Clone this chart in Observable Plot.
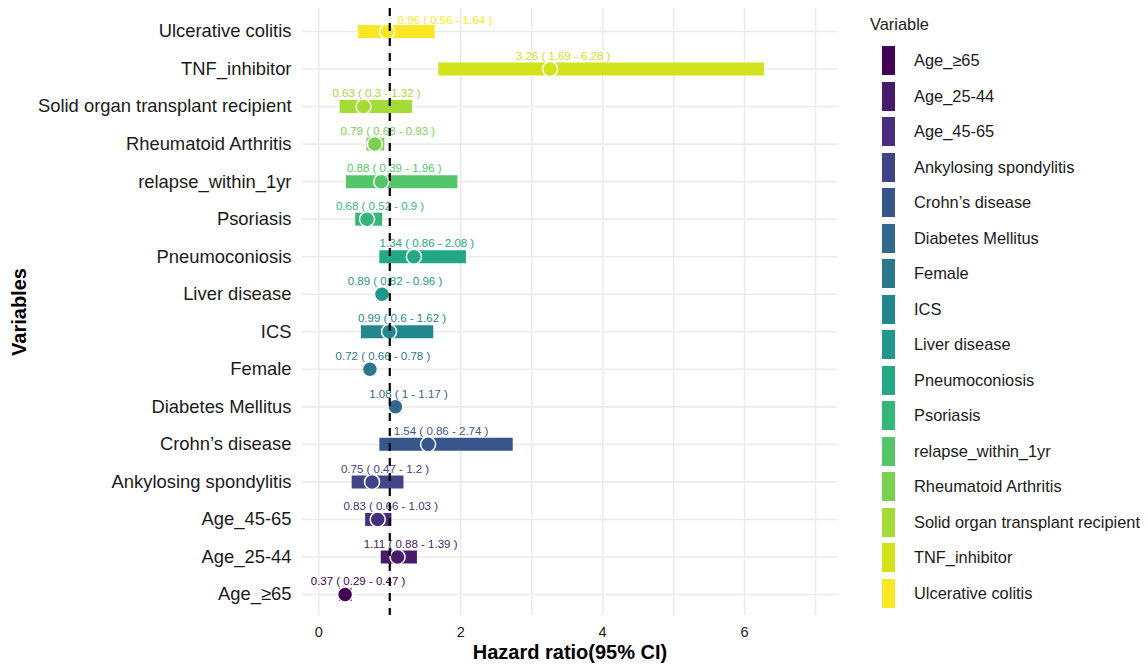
<!DOCTYPE html>
<html>
<head>
<meta charset="utf-8">
<script src="https://cdn.jsdelivr.net/npm/d3@7"></script>
<script src="https://cdn.jsdelivr.net/npm/@observablehq/plot@0.6"></script>
<style>
  html, body { margin: 0; padding: 0; background: #fff; }
  body { width: 1148px; height: 666px; position: relative; overflow: hidden;
         font-family: "Liberation Sans", Helvetica, Arial, sans-serif; }
  #chart { position: absolute; left: 0; top: 0; }
  #legend { position: absolute; left: 870px; top: 14px; color: #1a1a1a; }
  #legend .title { font-size: 16.4px; line-height: 20px; height: 29px; }
  #legend .row { display: flex; align-items: center; height: 35.5px; }
  #legend .sw { width: 13px; height: 29px; margin-left: 12px; }
  #legend .lab { font-size: 16.4px; margin-left: 19px; white-space: nowrap; }
</style>
</head>
<body>
<div id="chart"></div>
<div id="legend"></div>
<script>
// factor levels (bottom to top on the y axis, also legend order)
const variables = ["Age_≥65","Age_25-44","Age_45-65","Ankylosing spondylitis","Crohn’s disease",
  "Diabetes Mellitus","Female","ICS","Liver disease","Pneumoconiosis","Psoriasis",
  "relapse_within_1yr","Rheumatoid Arthritis","Solid organ transplant recipient",
  "TNF_inhibitor","Ulcerative colitis"];
const hr    = [0.37, 1.11, 0.83, 0.75, 1.54, 1.08, 0.72, 0.99, 0.89, 1.34, 0.68, 0.88, 0.79, 0.63, 3.26, 0.96];
const lower = [0.29, 0.88, 0.66, 0.47, 0.86, 1,    0.66, 0.6,  0.82, 0.86, 0.52, 0.39, 0.68, 0.3,  1.69, 0.56];
const upper = [0.47, 1.39, 1.03, 1.2,  2.74, 1.17, 0.78, 1.62, 0.96, 2.08, 0.9,  1.96, 0.93, 1.32, 6.28, 1.64];
const xTicks = [0, 2, 4, 6];
const xGrid = [0, 1, 2, 3, 4, 5, 6, 7];
const refLine = [1];

const palette = d3.quantize(d3.interpolateViridis, variables.length);
const rows = variables.map((v, i) => ({
  v, hr: hr[i], lo: lower[i], hi: upper[i],
  label: `${hr[i]} ( ${lower[i]} - ${upper[i]} )`
}));
const font = '"Liberation Sans", Helvetica, Arial, sans-serif';

const chart = Plot.plot({
  width: 860, height: 666,
  marginLeft: 302, marginRight: 23, marginTop: 8, marginBottom: 51,
  style: { fontFamily: font, background: "white", color: "#1a1a1a" },
  x: { domain: [-0.23, 7.31] },
  y: { type: "point", domain: variables.slice().reverse(), range: [31, 594], padding: 0, round: false },
  color: { domain: variables, range: palette },
  marks: [
    Plot.gridX(xGrid, { stroke: "#ebebeb", strokeOpacity: 1, strokeWidth: 1.6 }),
    Plot.gridY({ stroke: "#ebebeb", strokeOpacity: 1, strokeWidth: 1.6 }),
    Plot.ruleY(rows, { y: "v", x1: "lo", x2: "hi", stroke: "v", strokeWidth: 13 }),
    Plot.dot(rows, { x: "hr", y: "v", r: 7.5, fill: "v", stroke: "white", strokeWidth: 1.5 }),
    Plot.text(rows.filter(d => d.v !== "Ulcerative colitis"),
      { x: "hr", y: "v", text: "label", fill: "v", fontSize: 11.5, dx: 13, dy: -13 }),
    Plot.text(rows.filter(d => d.v === "Ulcerative colitis"),
      { x: "hr", y: "v", text: "label", fill: "v", fontSize: 11.5, dx: 58, dy: -11 }),
    Plot.ruleX(refLine, { stroke: "black", strokeWidth: 2.2, strokeDasharray: "8,7" }),
    Plot.axisX(xTicks, { tickSize: 0, tickPadding: 11, fontSize: 14.5, label: null, fill: "#1a1a1a" }),
    Plot.axisY({ tickSize: 0, tickPadding: 11, fontSize: 18.4, label: null, fill: "#1a1a1a" }),
    Plot.text(["Hazard ratio(95% CI)"], { frameAnchor: "bottom", lineAnchor: "middle", dy: 37, fontSize: 20, fontWeight: "bold", fill: "#000" }),
    Plot.text(["Variables"], { frameAnchor: "left", textAnchor: "middle", lineAnchor: "middle", rotate: -90, dx: -283, fontSize: 20, fontWeight: "bold", fill: "#000" })
  ]
});
document.getElementById("chart").appendChild(chart);

// legend
const leg = document.getElementById("legend");
const t = document.createElement("div");
t.className = "title"; t.textContent = "Variable";
leg.appendChild(t);
variables.forEach((v, i) => {
  const r = document.createElement("div"); r.className = "row";
  const s = document.createElement("div"); s.className = "sw"; s.style.background = palette[i];
  const l = document.createElement("div"); l.className = "lab"; l.textContent = v;
  r.appendChild(s); r.appendChild(l); leg.appendChild(r);
});
</script>
</body>
</html>
